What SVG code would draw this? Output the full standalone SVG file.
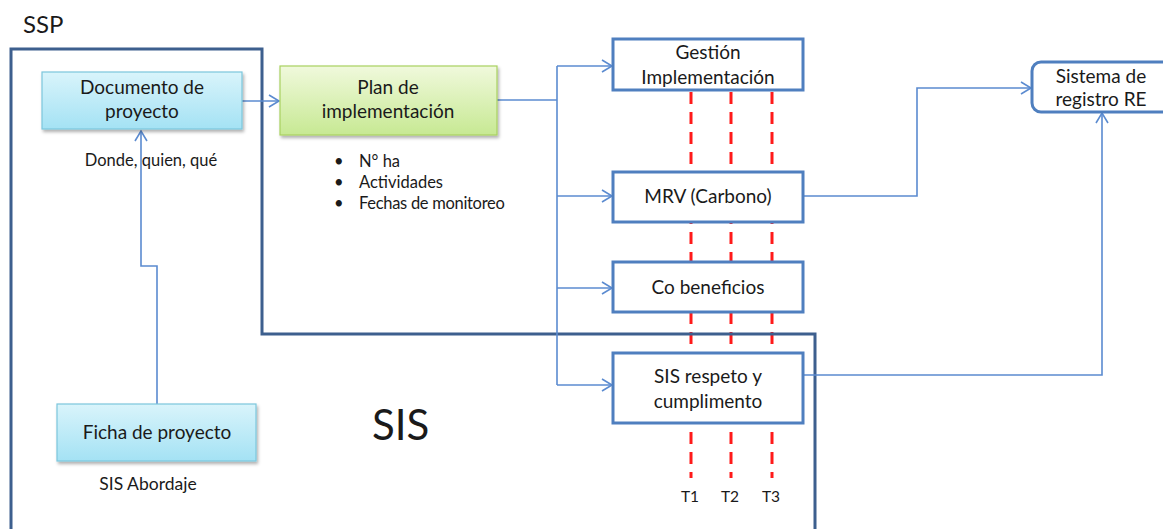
<svg xmlns="http://www.w3.org/2000/svg" width="1163" height="529" viewBox="0 0 1163 529">
<defs>
<linearGradient id="gBlue" x1="0" y1="0" x2="0" y2="1"><stop offset="0" stop-color="#d9f4fb"/><stop offset="1" stop-color="#a4e2f4"/></linearGradient>
<linearGradient id="gGreen" x1="0" y1="0" x2="0" y2="1"><stop offset="0" stop-color="#f0f9dc"/><stop offset="1" stop-color="#c7e993"/></linearGradient>
<filter id="sh" x="-10%" y="-10%" width="130%" height="140%"><feDropShadow dx="1.5" dy="2.5" stdDeviation="1.5" flood-color="#000" flood-opacity="0.3"/></filter>
<marker id="ar" markerUnits="userSpaceOnUse" markerWidth="14" markerHeight="14" viewBox="0 0 14 14" refX="12" refY="7" orient="auto"><path d="M2,1 L12,7 L2,13" fill="none" stroke="#5b8bd0" stroke-width="1.6"/></marker>
<style>
text{font-family:Lato,"Liberation Sans",sans-serif;fill:#1a1a1a}
.t{font-size:19px;text-anchor:middle}
.s{font-size:16.5px}
.tl{font-size:15.5px;text-anchor:middle}
.c{fill:none;stroke:#5b8bd0;stroke-width:1.6}
.red{stroke:#ff1a1a;stroke-width:3;stroke-dasharray:12 8}
.box{fill:#fff;stroke:#4f7fbf;stroke-width:3}
.lb{fill:url(#gBlue);stroke:#7cc6dc;stroke-width:1.2;filter:url(#sh)}
.lg{fill:url(#gGreen);stroke:#a8d15f;stroke-width:1.2;filter:url(#sh)}
</style>
</defs>
<rect width="1163" height="529" fill="#fff"/>
<g id="timelines">
<line class="red" x1="691" y1="92" x2="691" y2="478"/>
<line class="red" x1="731" y1="92" x2="731" y2="478"/>
<line class="red" x1="772" y1="92" x2="772" y2="478"/>
</g>
<g id="ssp-frame">
<path d="M11,529 V49 H262 V334 H815 V529" fill="none" stroke="#3d5f8e" stroke-width="3"/>
<text x="23" y="33" style="font-size:24px">SSP</text>
<text x="372" y="440" style="font-size:42px">SIS</text>
</g>
<g id="connectors">
<path class="c" d="M242,101 H279" marker-end="url(#ar)"/>
<path class="c" d="M157,404 V266 H141 V131" marker-end="url(#ar)"/>
<path class="c" d="M497,100 H557"/>
<path class="c" d="M557,66 V385"/>
<path class="c" d="M557,66 H612" marker-end="url(#ar)"/>
<path class="c" d="M557,196 H612" marker-end="url(#ar)"/>
<path class="c" d="M557,288 H612" marker-end="url(#ar)"/>
<path class="c" d="M557,385 H612" marker-end="url(#ar)"/>
<path class="c" d="M803,196 H917 V88 H1031" marker-end="url(#ar)"/>
<path class="c" d="M803,375 H1102 V113" marker-end="url(#ar)"/>
</g>
<g id="documento">
<rect class="lb" x="42" y="72" width="200" height="57"/>
<text class="t" x="142" y="94">Documento de</text>
<text class="t" x="142" y="118">proyecto</text>
<text x="151" y="166" style="font-size:16.5px;text-anchor:middle">Donde, quien, qué</text>
</g>
<g id="ficha">
<rect class="lb" x="57" y="404" width="199" height="57"/>
<text class="t" x="157" y="439">Ficha de proyecto</text>
<text x="148" y="490" style="font-size:17.5px;text-anchor:middle">SIS Abordaje</text>
</g>
<g id="plan">
<rect class="lg" x="280" y="66" width="217" height="69"/>
<text class="t" x="388" y="94">Plan de</text>
<text class="t" x="388" y="118">implementación</text>
<text class="s" x="334" y="167">•</text><text class="s" x="359" y="167">N° ha</text>
<text class="s" x="334" y="188">•</text><text class="s" x="359" y="188">Actividades</text>
<text class="s" x="334" y="209">•</text><text class="s" x="359" y="209" letter-spacing="-0.3">Fechas de monitoreo</text>
</g>
<g id="gestion">
<rect class="box" x="613" y="39" width="190" height="51"/>
<text class="t" x="708" y="59">Gestión</text>
<text class="t" x="708" y="84">Implementación</text>
</g>
<g id="mrv">
<rect class="box" x="613" y="172" width="190" height="50"/>
<text class="t" x="708" y="203">MRV (Carbono)</text>
</g>
<g id="cobeneficios">
<rect class="box" x="613" y="262" width="190" height="50"/>
<text class="t" x="708" y="294">Co beneficios</text>
</g>
<g id="sis-respeto">
<rect class="box" x="613" y="353" width="190" height="70"/>
<text class="t" x="708" y="383">SIS respeto y</text>
<text class="t" x="708" y="408">cumplimento</text>
</g>
<g id="labels-t">
<text class="tl" x="690" y="502">T1</text>
<text class="tl" x="730" y="502">T2</text>
<text class="tl" x="771" y="502">T3</text>
</g>
<g id="sistema">
<rect x="1032" y="62" width="150" height="50" rx="9" fill="#fff" stroke="#4f7fbf" stroke-width="3"/>
<text class="t" x="1101" y="83">Sistema de</text>
<text class="t" x="1101" y="106">registro RE</text>
</g>
</svg>
